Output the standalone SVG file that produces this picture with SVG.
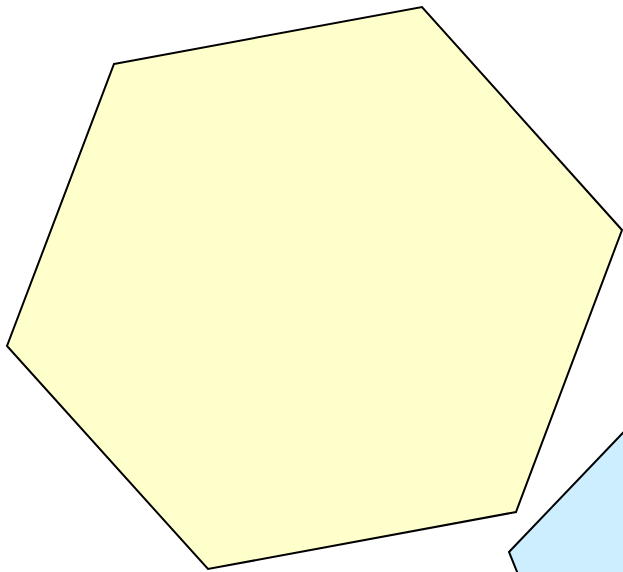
<svg xmlns="http://www.w3.org/2000/svg" width="623" height="572" viewBox="0 0 623 572">
<style>
.shape{stroke:#000;stroke-width:2;stroke-linejoin:miter}
</style>
<rect width="623" height="572" fill="#fff"/>
<g id="hex-yellow">
<polygon class="shape" fill="#ffffcc" points="114,64 422,7 622,230 516,512 208,569 7,346"/>
</g>
<g id="hex-blue">
<polygon class="shape" fill="#cceeff" points="640,415 509,552 526,594 660,594"/>
</g>
<g id="connectors"></g>
</svg>
